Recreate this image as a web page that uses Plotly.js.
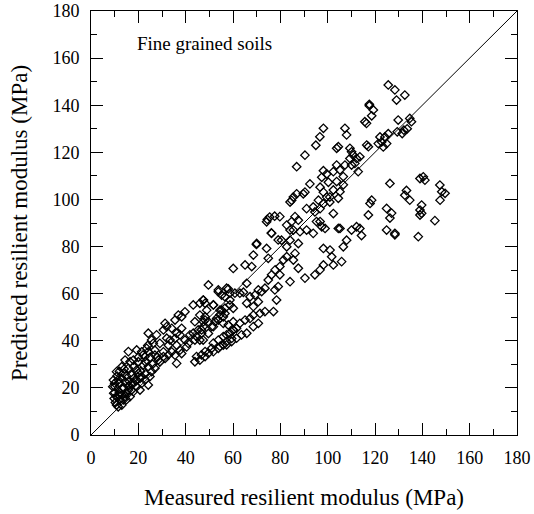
<!DOCTYPE html>
<html>
<head>
<meta charset="utf-8">
<script src="https://cdn.plot.ly/plotly-3.0.1.min.js"></script>
<style>html,body{margin:0;padding:0;background:#fff;}#chart{width:534px;height:514px;}</style>
</head>
<body>
<div id="chart"></div>
<script>
// Measured (x) and predicted (y) resilient modulus, MPa
const measured = [
15.8,19.3,17.9,14.4,16.5,20.0,13.0,15.8,19.3,22.1,24.2,25.6,27.0,24.9,22.8,20.0,17.2,13.7,10.8,9.5,11.5,14.4,17.2,19.3,21.4,24.2,20.7,17.9,15.8,13.0,10.1,9.2,9.6,11.5,14.4,16.5,12.2,9.8,10.3,10.8,13.0,11.5,13.7,15.1,21.4,20.7,29.1,31.3,32.7,
12,13,15,16,18,12,14,16,18,11,13,15,17,19,21,23,26,28,23,11,10,10,12,14,18,20,22,25,27,24,
23.5,24.2,21.4,27.0,22.8,28.4,30.6,34.1,35.5,37.6,38.3,36.2,
24.2,27.7,29.1,26.3,25.6,32.0,32.7,30.6,
31.3,32.0,34.1,30.6,38.3,36.2,37.6,
43.2,44.6,46.7,47.4,43.9,41.1,40.4,36.2,
39.7,36.9,38.3,35.5,48.2,47.5,53.1,51.0,52.4,43.9,
53.8,47.4,46.0,48.2,43.2,51.7,55.2,58.7,56.6,
33.4,35.5,39.7,41.8,45.3,47.4,49.6,54.5,56.6,60.1,60.1,58.0,55.9,
43.9,46.0,48.2,49.6,51.7,53.8,55.9,57.3,59.4,58.7,60.1,48.2,51.0,46.7,44.6,
74.2,76.3,79.1,70.0,74.2,68.6,74.9,65.1,67.9,60.1,
84.1,79.8,77.8,76.3,74.9,79.1,77.7,73.5,70.7,69.3,72.1,78.4,70.7,67.2,65.8,68.6,73.5,77.1,
53.8,57.3,58.7,55.2,60.8,62.9,49.6,47.5,51.7,54.5,56.6,58.7,48.9,46.0,48.2,51.7,53.8,55.9,46.7,49.6,46.0,
51.7,53.8,55.9,57.3,60.1,61.5,62.9,65.1,67.2,68.6,71.4,54.5,57.3,59.4,61.5,63.6,65.8,68.6,70.7,
74.5,75.5,77.6,76.2,69.9,58.0,65.8,64.4,
90.4,86.9,98.2,99.6,97.5,100.3,100.9,96.8,98.2,99.6,100.9,98.2,96.8,96.1,92.5,90.4,86.9,85.5,84.1,84.8,89.7,93.9,94.6,91.1,102.4,
86.2,87.6,84.8,85.5,84.1,88.3,91.1,93.9,95.3,96.8,97.5,98.9,104.5,
98.2,101.0,101.7,102.4,98.2,96.8,94.6,90.4,87.6,85.5,86.2,82.7,82.7,81.3,79.8,87.6,84.1,80.5,79.8,82.7,
124.9,127.0,126.3,139.7,139.0,139.0,139.7,145.3,147.5,138.3,124.9,128.4,128.4,113.6,112.2,110.1,108.0,106.6,105.9,105.2,114.3,117.2,
125.6,128.4,132.6,129.1,117.6,117.6,119.3,118.6,115.7,116.4,129.8,134.7,135.4,133.6,132.2,131.5,129.4,125.6,124.2,122.1,122.8,124.9,123.5,121.4,107.3,108.0,116.5,117.2,103.8,109.4,110.1,110.8,112.2,113.6,109.4,111.5,112.9,110.1,107.3,103.8,102.4,105.2,106.6,103.8,102.4,105.2,104.5,106.6,126.3,139.0,140.4,141.1,147.4,148.2,149.6,133.3,134.7,132.6,118.6,117.9,
98.2,96.7,95.0,104.5
];
const predicted = [
35.4,36.1,31.8,31.8,31.1,31.1,29.0,28.3,27.6,29.7,29.0,26.9,28.3,24.8,23.3,26.2,25.5,26.2,26.9,23.3,23.3,22.6,21.9,20.5,21.9,21.2,19.1,18.4,19.1,19.8,20.5,20.5,17.7,17.0,16.3,16.3,14.9,15.5,13.8,12.7,12.7,12.0,14.9,17.7,24.8,24.1,31.1,32.5,34.0,
22,24,25,23,24,18,20,21,22,16,17,15,19,23,27,26,30,33,31,25,22,18,27,28,29,33,34,33,36,38,
36.8,35.3,35.3,33.9,33.3,31.8,33.3,35.3,33.9,36.0,34.6,30.4,
43.2,42.5,38.9,38.9,40.3,41.1,38.1,35.3,
47.4,46.0,45.3,44.6,45.3,43.2,42.5,
43.2,41.8,43.2,40.3,40.3,38.9,37.4,38.1,
52.3,50.9,50.2,48.8,50.2,48.1,49.5,46.0,48.1,48.1,
60.8,57.3,55.9,55.9,55.2,55.2,53.0,55.2,58.7,
40.3,41.0,40.3,42.5,44.6,46.0,48.1,51.0,51.6,53.8,48.1,46.7,47.4,
31.1,31.8,33.3,34.7,35.4,36.8,38.2,39.6,41.0,43.2,44.6,35.4,36.8,34.0,33.3,
90.5,85.6,82.8,81.3,79.2,76.4,75.0,72.2,71.5,70.7,
65.1,68.0,70.1,68.0,65.8,63.0,61.6,62.3,61.6,59.4,60.9,57.3,56.6,58.7,55.9,54.5,52.4,52.4,
61.6,62.3,60.2,59.4,60.2,60.2,63.7,57.3,55.2,53.0,53.8,57.3,53.0,50.9,48.8,46.0,48.8,50.2,44.6,43.1,40.3,
39.0,40.3,41.8,42.5,44.6,45.3,47.4,48.8,49.5,50.9,51.6,37.6,38.3,39.7,41.1,42.5,43.2,46.0,47.4,
91.5,92.5,92.9,85.8,80.9,62.0,64.4,60.6,
118.8,113.9,112.2,110.8,109.4,107.3,101.0,105.2,103.1,101.0,98.9,98.2,96.1,99.7,106.6,103.1,102.4,101.0,98.9,99.6,102.4,96.8,94.7,96.1,94.0,
92.7,91.2,90.6,87.0,87.0,86.3,87.0,85.6,90.6,90.6,88.4,87.7,87.7,
79.2,78.5,75.7,72.2,72.2,70.1,68.0,66.6,70.8,74.3,77.1,79.9,75.7,74.3,71.5,81.3,82.7,82.7,92.7,89.1,
96.2,94.2,92.1,97.6,95.5,93.4,94.1,91.0,99.7,84.2,87.0,85.6,85.0,87.7,88.4,87.0,82.7,79.9,73.6,87.7,84.7,93.4,
148.6,146.5,144.3,142.2,140.4,139.8,138.0,135.5,133.0,132.3,133.7,134.4,133.0,130.0,129.4,128.0,128.7,127.9,126.5,126.5,124.4,123.7,122.3,123.7,130.2,127.4,123.1,122.4,121.7,121.7,120.2,118.8,117.4,118.1,117.4,115.3,111.8,114.6,114.6,114.6,111.8,112.5,109.7,107.6,104.0,103.3,100.5,106.2,106.8,108.9,109.6,108.2,106.1,103.3,102.6,103.8,99.7,101.8,99.7,98.3,
130.2,126.6,123.0,122.4
];
const diagX = [0, 180];
const diagY = [0, 180];
const tickVals = [0,20,40,60,80,100,120,140,160,180];
const xTitle = 'Measured resilient modulus (MPa)';
const yTitle = 'Predicted resilient modulus (MPa)';
const noteText = 'Fine grained soils';

const font = 'Liberation Serif';
const axisCommon = {
  range: [0, 180], tickvals: tickVals, ticks: 'inside', ticklen: 12, tickwidth: 1, tickcolor: '#000',
  showline: true, linecolor: '#000', linewidth: 1, mirror: 'ticks', showgrid: false, zeroline: false,
  tickfont: {family: font, size: 18, color: '#000'},
  minor: {dtick: 10, ticks: 'inside', ticklen: 6, tickwidth: 1, tickcolor: '#000', showgrid: false}
};
const layout = {
  width: 534, height: 514,
  font: {family: font, size: 18, color: '#000'},
  margin: {l: 91, r: 17, t: 11, b: 79},
  paper_bgcolor: '#fff', plot_bgcolor: '#fff',
  showlegend: false,
  xaxis: Object.assign({}, axisCommon, {ticklabelstandoff: 6,
    title: {text: xTitle, font: {family: font, size: 23, color: '#000'}, standoff: 22}}),
  yaxis: Object.assign({}, axisCommon, {ticklabelstandoff: 7,
    title: {text: yTitle, font: {family: font, size: 23, color: '#000'}, standoff: 18}}),
  annotations: [{x: 18.6, y: 166, xref: 'x', yref: 'y', text: noteText, showarrow: false,
    xanchor: 'left', yanchor: 'middle', font: {family: font, size: 19, color: '#000'}}]
};
const traces = [
  {x: diagX, y: diagY, mode: 'lines', line: {color: '#000', width: 1}, hoverinfo: 'skip'},
  {x: measured, y: predicted, mode: 'markers', cliponaxis: false,
   marker: {symbol: 'diamond-open', size: 6.5, color: '#000', line: {color: '#000', width: 1.3}}}
];
Plotly.newPlot('chart', traces, layout, {displayModeBar: false, staticPlot: true});
</script>
</body>
</html>
